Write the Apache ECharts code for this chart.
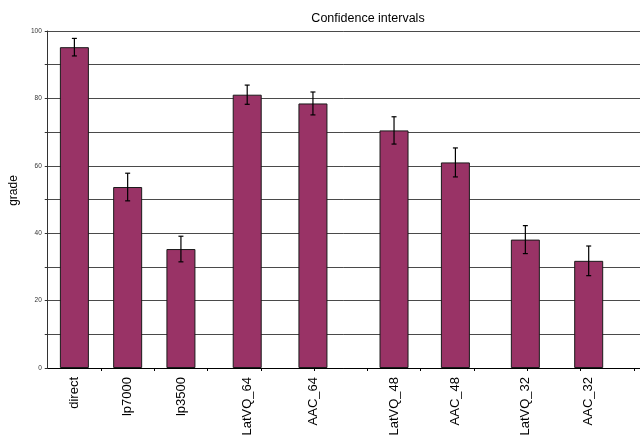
<!DOCTYPE html>
<html>
<head>
<meta charset="utf-8">
<script src="https://cdn.jsdelivr.net/npm/echarts@6/dist/echarts.min.js"></script>
<style>
  html, body { margin: 0; padding: 0; background: #fff; }
  #chart { width: 640px; height: 439px; }
</style>
</head>
<body>
<div id="chart"></div>
<script>
// Mean grade per coder with confidence half-widths
const categories = ['direct', 'lp7000', 'lp3500', 'LatVQ_64', 'AAC_64', 'LatVQ_48', 'AAC_48', 'LatVQ_32', 'AAC_32'];
const grades     = [95.2, 53.7, 35.3, 81.1, 78.5, 70.5, 61.0, 38.1, 31.8];
const halfWidths = [2.6, 4.1, 3.8, 2.85, 3.4, 4.05, 4.3, 4.15, 4.4];
const yTicks     = [0, 20, 40, 60, 80, 100];

// Slot of each bar along the x axis (11 tick slots, bars sit between/inside them)
const slots = [0.5, 1.5, 2.5, 3.744, 4.978, 6.5, 7.652, 8.965, 10.154];
const tickSlots = [1, 2, 3, 4, 5, 6, 7, 8, 9, 10, 11];

const barData = categories.map((c, i) => [slots[i], grades[i]]);
const errData = categories.map((c, i) => [slots[i], grades[i] - halfWidths[i], grades[i] + halfWidths[i]]);

const chart = echarts.init(document.getElementById('chart'), null, { renderer: 'canvas' });

chart.setOption({
  animation: false,
  backgroundColor: '#fff',
  textStyle: { fontFamily: 'Liberation Sans, Arial, sans-serif' },
  title: {
    text: 'Confidence intervals',
    left: 363,
    top: 7,
    textAlign: 'center',
    textStyle: { fontSize: 12.5, fontWeight: 'normal', color: '#000', fontFamily: 'Liberation Sans, Arial, sans-serif' }
  },
  grid: { left: 32, right: 0, top: 31, bottom: 71, containLabel: false },
  xAxis: {
    type: 'value',
    min: 0,
    max: 11.117,
    interval: 1,
    splitLine: { show: false },
    axisLine: { show: true, lineStyle: { color: '#000', width: 1 } },
    axisTick: { show: true, length: 3, customValues: tickSlots, lineStyle: { color: '#000' } },
    axisLabel: {
      show: true,
      customValues: slots,
      rotate: 90,
      margin: 9,
      fontSize: 13,
      color: '#000',
      fontFamily: 'Liberation Sans, Arial, sans-serif',
      formatter: function (v) {
        const i = slots.indexOf(v);
        return i >= 0 ? categories[i] : '';
      }
    }
  },
  yAxis: {
    type: 'value',
    min: 0,
    max: 100,
    interval: 10,
    name: 'grade',
    nameLocation: 'middle',
    nameGap: 13,
    nameTextStyle: { fontSize: 12, color: '#000', padding: [0, 0, 0, 18], fontFamily: 'Liberation Sans, Arial, sans-serif' },
    axisLine: { show: true, lineStyle: { color: '#333', width: 1 } },
    axisTick: { show: true, length: 3, lineStyle: { color: '#333' } },
    axisLabel: {
      fontSize: 6.5,
      color: '#333',
      margin: 6,
      formatter: function (v) { return yTicks.indexOf(v) >= 0 ? String(v) : ''; }
    },
    splitLine: { show: true, lineStyle: { color: '#4a4a4a', width: 1 } }
  },
  series: [
    {
      type: 'bar',
      data: barData,
      barWidth: 29,
      itemStyle: { color: '#993366', borderColor: '#1a1a1a', borderWidth: 1 },
      z: 2
    },
    {
      type: 'custom',
      data: errData,
      z: 3,
      renderItem: function (params, api) {
        const x = api.value(0);
        const lo = api.coord([x, api.value(1)]);
        const hi = api.coord([x, api.value(2)]);
        const cap = 2.5;
        const style = { stroke: '#000', lineWidth: 1.2 };
        return {
          type: 'group',
          children: [
            { type: 'line', shape: { x1: lo[0], y1: lo[1], x2: hi[0], y2: hi[1] }, style: style },
            { type: 'line', shape: { x1: hi[0] - cap, y1: hi[1], x2: hi[0] + cap, y2: hi[1] }, style: style },
            { type: 'line', shape: { x1: lo[0] - cap, y1: lo[1], x2: lo[0] + cap, y2: lo[1] }, style: style }
          ]
        };
      }
    }
  ]
});
</script>
</body>
</html>
